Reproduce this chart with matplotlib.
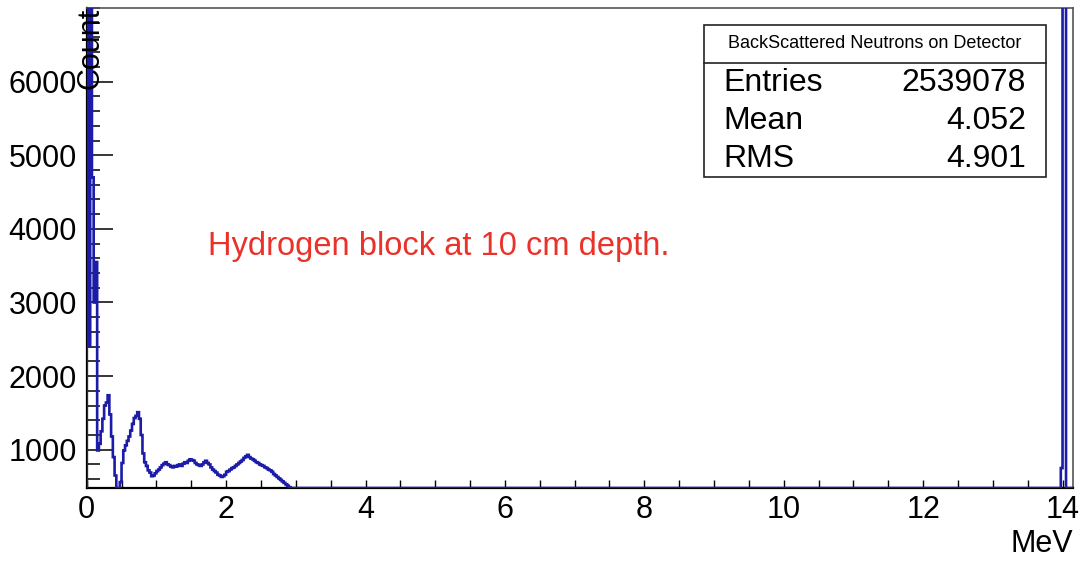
import matplotlib
matplotlib.use("Agg")
import matplotlib.pyplot as plt
import numpy as np
from matplotlib.patches import Rectangle
from matplotlib.lines import Line2D
from matplotlib.ticker import MultipleLocator

plt.rcParams['font.family'] = ['Liberation Sans', 'DejaVu Sans']

# histogram settings
bin_width = 0.025
x_max = 14.15
y_min, y_max = 480, 7000

# counts per bin from 0 to 3 MeV
low_counts = [
    15000, 2400, 9000, 4700, 3000, 3550, 990, 1080,
    1250, 1420, 1600, 1640, 1740, 1480, 1180, 900,
    650, 440, 430, 560, 820, 990, 1060, 1120,
    1180, 1260, 1350, 1430, 1460, 1510, 1420, 1200,
    950, 830, 780, 720, 690, 640, 650, 680,
    710, 730, 760, 790, 810, 830, 800, 790,
    770, 760, 780, 770, 790, 800, 780, 810,
    830, 820, 850, 870, 860, 850, 820, 800,
    790, 780, 800, 830, 850, 820, 800, 760,
    730, 710, 690, 660, 650, 630, 640, 660,
    700, 710, 730, 750, 760, 780, 800, 820,
    840, 860, 890, 910, 930, 900, 880, 870,
    850, 830, 820, 800, 790, 780, 760, 750,
    730, 720, 700, 670, 650, 630, 610, 590,
    570, 550, 530, 510, 490, 480, 470, 460,
]
# counts around the 14 MeV source line
peak_start = 13.975
peak_counts = [750, 600000, 30000]

# stats box
stats_title = "BackScattered Neutrons on Detector"
stats_names = ["Entries", "Mean", "RMS"]
stats_values = ["2539078", "4.052", "4.901"]

edges = np.arange(0, x_max + bin_width / 2, bin_width)
counts = np.zeros(len(edges) - 1)
counts[:len(low_counts)] = low_counts
i0 = int(round(peak_start / bin_width))
counts[i0:i0 + len(peak_counts)] = peak_counts

W, H = 1086, 561
fig = plt.figure(figsize=(W / 100, H / 100), dpi=100)


def fx(x):
    return x / W


def fy(y):
    return 1 - y / H


ax = fig.add_axes([fx(86.7), fy(488), fx(1073 - 86.7), (488 - 8) / H])

# below-minimum bins sit on the frame floor, as ROOT draws them
ax.stairs(np.clip(counts, y_min, None), edges, color='#1c1ca8', lw=1.9,
          zorder=3)

ax.set_xlim(0, x_max)
ax.set_ylim(y_min, y_max)

ax.xaxis.set_major_locator(MultipleLocator(2))
ax.xaxis.set_minor_locator(MultipleLocator(0.5))
ax.yaxis.set_major_locator(MultipleLocator(1000))
ax.yaxis.set_minor_locator(MultipleLocator(200))
ax.set_yticks([1000, 2000, 3000, 4000, 5000, 6000])

ax.tick_params(axis='x', which='both', direction='in', length=6, width=1.0,
               labelsize=22, pad=5, top=False)
ax.tick_params(axis='y', which='major', direction='in', length=19, width=1.1,
               labelsize=22, pad=7, right=False)
ax.tick_params(axis='y', which='minor', direction='in', length=9.5,
               width=1.1, right=False)

for side in ['left', 'bottom']:
    ax.spines[side].set_linewidth(1.6)
    ax.spines[side].set_color('black')
for side in ['top', 'right']:
    ax.spines[side].set_linewidth(1.2)
    ax.spines[side].set_color('#555555')

fig.text(fx(90), fy(8), "Count", rotation=90, ha='center', va='top',
         fontsize=22)
fig.text(fx(1073), fy(544), "MeV", ha='right', va='center', fontsize=22)

ax.text(fx(208), fy(247), "Hydrogen block at 10 cm depth.",
        transform=fig.transFigure, ha='left', va='center', fontsize=23.5,
        color='#e8322a')

# stats box
bx0, bx1, by0, by1, bsep = 704, 1046, 25, 177, 62.5
fig.add_artist(Rectangle((fx(bx0), fy(by1)), fx(bx1 - bx0), (by1 - by0) / H,
                         transform=fig.transFigure, facecolor='white',
                         edgecolor='#222222', lw=1.2, zorder=5))
fig.add_artist(Line2D([fx(bx0), fx(bx1)], [fy(bsep), fy(bsep)],
                      transform=fig.transFigure, color='#222222', lw=1.2,
                      zorder=6))
fig.text(fx((bx0 + bx1) / 2), fy(44), stats_title, ha='center', va='center',
         fontsize=13, zorder=7)
for k, (name, val) in enumerate(zip(stats_names, stats_values)):
    yy = fy(83 + k * 38)
    fig.text(fx(723), yy, name, ha='left', va='center', fontsize=23, zorder=7)
    fig.text(fx(1026), yy, val, ha='right', va='center', fontsize=23, zorder=7)

fig.savefig("out.png", dpi=100)
